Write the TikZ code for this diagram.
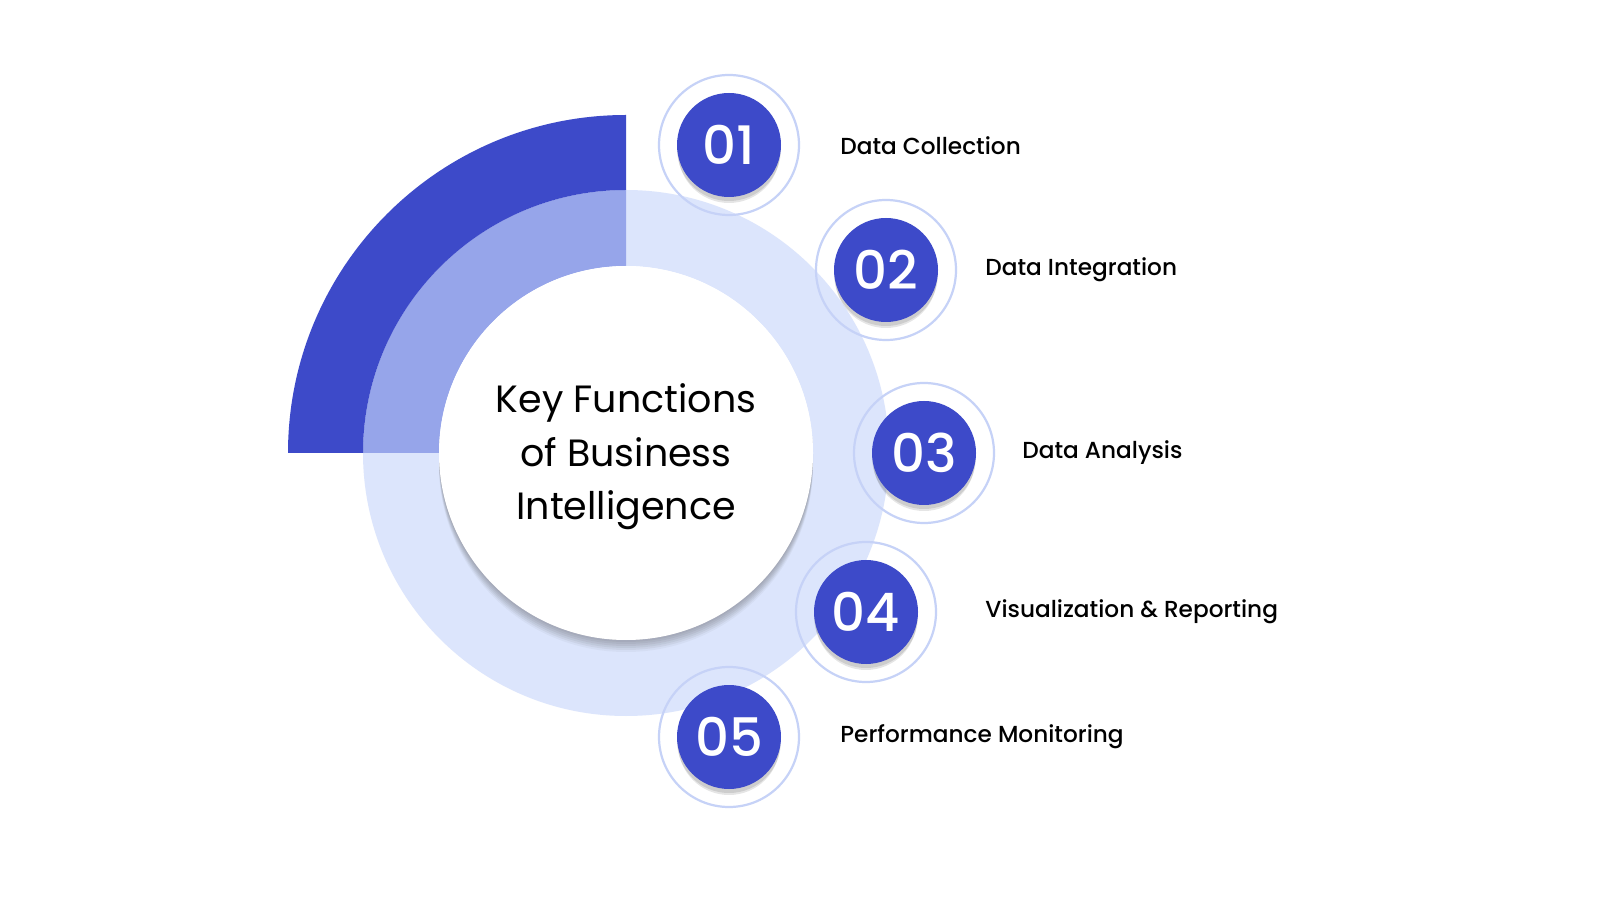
\documentclass[tikz,border=0pt]{standalone}
\usepackage{fontspec}
\usetikzlibrary{calc}
\setmainfont{Poppins}
\newfontfamily\medfont{Poppins Medium}
\definecolor{dkblue}{HTML}{3D4AC9}
\definecolor{mdblue}{HTML}{96A5EA}
\definecolor{ltblue}{HTML}{DCE5FC}
\definecolor{rgblue}{HTML}{C6D2F7}
\tikzset{
  numdisc/.style={circle, fill=dkblue, minimum size=52pt, inner sep=0pt, text=white,
     font=\medfont\fontsize{26.5}{26.5}\selectfont},
  numring/.style={circle, draw=rgblue, line width=1.1pt, minimum size=70pt, inner sep=0pt},
  lbl/.style={anchor=west, inner sep=0pt, font=\medfont\fontsize{11.6}{13}\selectfont, text=black},
  numshadow/.style={fill=black, opacity=0.10}
}
\begin{document}
\begin{tikzpicture}[x=0.5pt,y=0.5pt]
\useasboundingbox[fill=white] (0,0) rectangle (1600,900);
\coordinate (c) at (626,447);
% light ring
\fill[ltblue,even odd rule] (c) circle[radius=263] (c) circle[radius=187];
% medium quadrant
\fill[mdblue] (c) ++(90:263) arc[start angle=90,end angle=180,radius=263]
  -- ++(76,0) arc[start angle=180,end angle=90,radius=187] -- cycle;
% dark quadrant
\fill[dkblue] (c) ++(90:338) arc[start angle=90,end angle=180,radius=338]
  -- ++(75,0) arc[start angle=180,end angle=90,radius=263] -- cycle;
% shadow of core
\foreach \d/\o in {2/0.08,4/0.08,6/0.08,8/0.08,10/0.07,12/0.05}{
  \fill[black!70, opacity=\o] ($(c)+(0,-\d)$) circle[radius=187];
}
\node[circle, fill=white, minimum size=187pt, inner sep=0pt] (core) at (c) {};
\node[align=center, font=\fontsize{19}{26.7}\selectfont] (title) at ($(c)+(0,-4)$) {Key Functions\\of Business\\Intelligence};
% number circles
\foreach \n/\x/\y in {1/729/755, 2/886/630, 3/924/447, 4/866/288, 5/729/163}{
  \node[numring] (r\n) at (\x,\y) {};
  \fill[numshadow] (\x,\y-4) circle[radius=52];
  \fill[numshadow] (\x,\y-7) circle[radius=51];
}
\node[numdisc] (n1) at (729,755) {01};
\node[numdisc] (n2) at (886,630) {02};
\node[numdisc] (n3) at (924,447) {03};
\node[numdisc] (n4) at (866,288) {04};
\node[numdisc] (n5) at (729,163) {05};
% labels
\node[lbl] (l1) at (840,754) {Data Collection};
\node[lbl] (l2) at (985,630) {Data Integration};
\node[lbl] (l3) at (1022,447) {Data Analysis};
\node[lbl] (l4) at (985,288) {Visualization \& Reporting};
\node[lbl] (l5) at (840,163) {Performance Monitoring};
\end{tikzpicture}
\end{document}
